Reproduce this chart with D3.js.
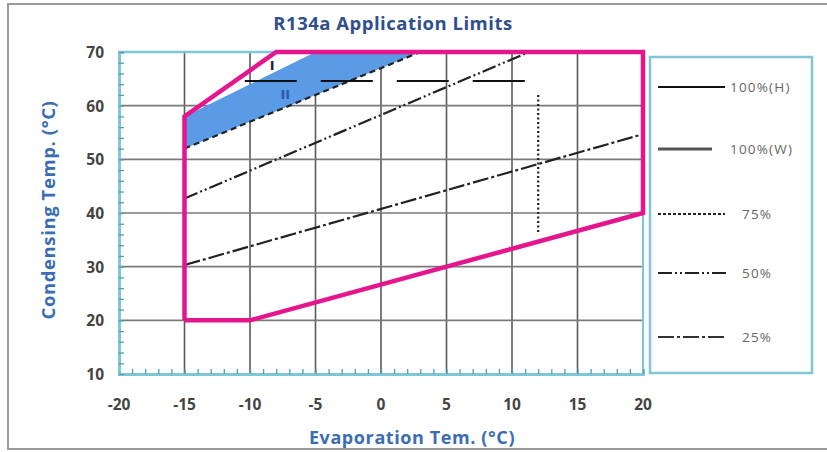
<!DOCTYPE html>
<html><head><meta charset="utf-8">
<script src="https://cdn.jsdelivr.net/npm/d3@7"></script>
<style>body{margin:0;background:#fff;}svg{display:block;font-family:"Open Sans",sans-serif;}</style>
</head><body>
<svg id="c" width="827" height="452"></svg>
<script>
const titleText = "R134a Application Limits";
const xLabel = "Evaporation Tem. (°C)";
const yLabel = "Condensing Temp. (°C)";
const xTicks = [-20,-15,-10,-5,0,5,10,15,20];
const yTicks = [10,20,30,40,50,60,70];
const envelope = [[-15,20],[-10,20],[20,40],[20,70],[-8,70],[-15,58],[-15,20]];
const shadedRegion = [[-15,58],[-5,70],[3,70],[-15,52]];
const line75 = [[-15,52],[3,70]];
const line100 = [[-10.4,64.6],[11.1,64.6]];
const line50 = [[-15,42.7],[11.3,70]];
const line25 = [[-15,30.3],[20,54.7]];
const lineVert = [[12,62],[12,36]];
const regionLabels = [{t:"I",x:-8.3,y:67.5},{t:"II",x:-7.3,y:62.2}];
const legendItems = ["100%(H)","100%(W)","75%","50%","25%"];

const svg = d3.select("#c");
const L=119,R=643,T=52,B=374;
const x = d3.scaleLinear().domain([-20,20]).range([L,R]);
const y = d3.scaleLinear().domain([10,70]).range([B,T]);
const line = d3.line().x(d=>x(d[0])).y(d=>y(d[1]));

// outer frame
svg.append("rect").attr("x",8).attr("y",4).attr("width",830).attr("height",445)
  .attr("fill","none").attr("stroke","#9a9a9a").attr("stroke-width",2);

// grid
svg.append("g").selectAll("line").data(xTicks.slice(1,-1)).join("line")
  .attr("x1",d=>x(d)).attr("x2",d=>x(d)).attr("y1",T).attr("y2",B)
  .attr("stroke","#5a5a5a").attr("stroke-width",1.6);
svg.append("g").selectAll("line").data(yTicks.slice(1,-1)).join("line")
  .attr("x1",L).attr("x2",R).attr("y1",d=>y(d)).attr("y2",d=>y(d))
  .attr("stroke","#7a7a7a").attr("stroke-width",1.6);

// axes frame (cyan)
const cyan="#7fc6d6";
svg.append("line").attr("x1",L).attr("x2",R).attr("y1",T).attr("y2",T).attr("stroke",cyan).attr("stroke-width",2.5);
svg.append("line").attr("x1",R).attr("x2",R).attr("y1",T).attr("y2",B).attr("stroke",cyan).attr("stroke-width",2);

const xAxis = d3.axisBottom(x).tickValues(d3.range(-20,21,1)).tickSize(-5).tickFormat("");
const gx = svg.append("g").attr("transform",`translate(0,${B})`).call(xAxis);
gx.select(".domain").attr("stroke",cyan).attr("stroke-width",3);
gx.selectAll(".tick line").attr("stroke","#4f9db5").attr("stroke-width",1.3);
const yAxis = d3.axisLeft(y).tickValues(d3.range(10,71,2)).tickSize(-5).tickFormat("");
const gy = svg.append("g").attr("transform",`translate(${L},0)`).call(yAxis);
gy.select(".domain").attr("stroke",cyan).attr("stroke-width",3);
gy.selectAll(".tick line").attr("stroke","#4f9db5").attr("stroke-width",1.3);

// tick labels
svg.append("g").selectAll("text").data(xTicks).join("text")
  .attr("x",d=>x(d)).attr("y",410).attr("text-anchor","middle")
  .attr("font-size",15.5).attr("font-weight","bold").attr("fill","#444").text(d=>d);
svg.append("g").selectAll("text").data(yTicks).join("text")
  .attr("x",104).attr("y",d=>y(d)+6).attr("text-anchor","end")
  .attr("font-size",15.5).attr("font-weight","bold").attr("fill","#444").text(d=>d);

// shaded region
svg.append("path").attr("d",line(shadedRegion)+"Z").attr("fill","#5b9be6");

// lines
svg.append("path").attr("d",line(line75)).attr("fill","none").attr("stroke","#222")
  .attr("stroke-width",2.2).attr("stroke-dasharray","6,4");
svg.append("path").attr("d",line(line100)).attr("fill","none").attr("stroke","#111")
  .attr("stroke-width",2.2).attr("stroke-dasharray","52,24");
svg.append("path").attr("d",line(line50)).attr("fill","none").attr("stroke","#222")
  .attr("stroke-width",2.2).attr("stroke-dasharray","14,3,2,3,2,3");
svg.append("path").attr("d",line(line25)).attr("fill","none").attr("stroke","#222")
  .attr("stroke-width",2.2).attr("stroke-dasharray","16,3,3,3");
svg.append("path").attr("d",line(lineVert)).attr("fill","none").attr("stroke","#222")
  .attr("stroke-width",2.2).attr("stroke-dasharray","2,2.5");

// envelope
svg.append("path").attr("d",line(envelope)).attr("fill","none").attr("stroke","#e5168d")
  .attr("stroke-width",4.5).attr("stroke-linejoin","miter");

// region labels
svg.append("g").selectAll("text").data(regionLabels).join("text")
  .attr("x",d=>x(d.x)).attr("y",d=>y(d.y)+5).attr("text-anchor","middle")
  .attr("font-size",13).attr("font-weight","bold").attr("fill",(d,i)=>i?"#2d5aa8":"#223")
  .attr("font-family","DejaVu Sans").text(d=>d.t);

// title & axis labels
svg.append("text").attr("x",393).attr("y",30).attr("text-anchor","middle")
  .attr("font-size",18.5).attr("font-weight","bold").attr("letter-spacing",0.5)
  .attr("fill","#2f4f8f").text(titleText);
svg.append("text").attr("x",412).attr("y",444).attr("text-anchor","middle")
  .attr("font-size",18).attr("font-weight","bold").attr("letter-spacing",0.6)
  .attr("fill","#3a6db3").text(xLabel);
svg.append("text").attr("transform","translate(55,210) rotate(-90)").attr("text-anchor","middle")
  .attr("font-size",18.5).attr("font-weight","bold").attr("letter-spacing",0.6)
  .attr("fill","#3a6db3").text(yLabel);

// legend
svg.append("rect").attr("x",650).attr("y",57).attr("width",162).attr("height",316)
  .attr("fill","#fff").attr("stroke",cyan).attr("stroke-width",2.5);
const legY = [87,149,214,273,337];
const legX2 = [725,712,725,728,725];
const legTx = [730,730,742,742,742];
const legStyle = [
  {c:"#111",w:2.2,d:null},{c:"#555",w:2.8,d:null},{c:"#222",w:2.2,d:"3,2"},
  {c:"#222",w:2.2,d:"14,3,2,3,2,3"},{c:"#333",w:2.2,d:"16,3,3,3"}];
const lg = svg.append("g").selectAll("g").data(legendItems).join("g");
lg.append("line").attr("x1",658).attr("x2",(d,i)=>legX2[i]).attr("y1",(d,i)=>legY[i]).attr("y2",(d,i)=>legY[i])
  .attr("stroke",(d,i)=>legStyle[i].c).attr("stroke-width",(d,i)=>legStyle[i].w)
  .attr("stroke-dasharray",(d,i)=>legStyle[i].d);
lg.append("text").attr("x",(d,i)=>legTx[i]).attr("y",(d,i)=>legY[i]+5)
  .attr("font-size",13.5).attr("letter-spacing",1.2).attr("fill","#666").text(d=>d);
</script>
</body></html>
